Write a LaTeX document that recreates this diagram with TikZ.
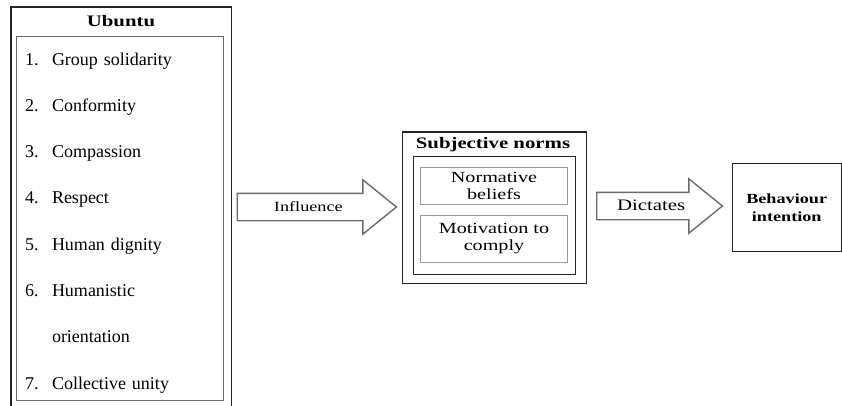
\documentclass[tikz,border=0pt]{standalone}
\usepackage{fontspec}
\setmainfont{Liberation Serif}
\newfontfamily\widefont{Liberation Serif}[FakeStretch=1.3]
\usetikzlibrary{shapes.arrows}

\definecolor{boxgray}{gray}{0.42}
\definecolor{itemgray}{gray}{0.6}

\begin{document}
\begin{tikzpicture}[x=1pt,y=1pt,node distance=46.3pt,
        outer box/.style={draw=black!85,line width=1.6pt,anchor=north west,inner sep=0pt},
        inner box/.style={draw=boxgray,line width=1.4pt,anchor=north west,inner sep=0pt},
        factor box/.style={draw=itemgray,line width=0.9pt,align=center,inner sep=0pt,
                           font=\widefont\fontsize{15.5}{17}\selectfont},
        list item/.style={text width=190pt,align=left,inner sep=0pt,text height=12pt,
                          text depth=4pt,font=\fontsize{18}{21}\selectfont},
        block arrow/.style={single arrow,draw=boxgray,line width=1.4pt,anchor=tail,
                            single arrow head extend=13.5pt,single arrow tip angle=78,
                            inner ysep=5pt,text height=12pt,text depth=4pt}]
  \useasboundingbox (0,0) rectangle (842,-405);

  % Ubuntu values
  \node[outer box,minimum width=220.5pt,minimum height=410pt] (1) at (10,-6) {};
  \node[font=\widefont\bfseries\fontsize{16}{18}\selectfont] (2) at (121,-21) {Ubuntu};
  \node[inner box,minimum width=207pt,minimum height=364.5pt] (3) at (16,-35.5) {};
  \node[list item] (4) at (120,-61) {\makebox[27pt][l]{1.}Group solidarity};
  \node[list item] (5) [below of=4] {\makebox[27pt][l]{2.}Conformity};
  \node[list item] (6) [below of=5] {\makebox[27pt][l]{3.}Compassion};
  \node[list item] (7) [below of=6] {\makebox[27pt][l]{4.}Respect};
  \node[list item] (8) [below of=7] {\makebox[27pt][l]{5.}Human dignity};
  \node[list item] (9) [below of=8] {\makebox[27pt][l]{6.}Humanistic};
  \node[list item] (10) [below of=9] {\hspace*{27pt}orientation};
  \node[list item] (11) [below of=10] {\makebox[27pt][l]{7.}Collective unity};

  % Subjective norms
  \node[outer box,minimum width=184pt,minimum height=151.5pt] (12) at (401.5,-131) {};
  \node[font=\widefont\bfseries\fontsize{16}{18}\selectfont] (13) at (493,-145) {Subjective norms};
  \node[inner box,draw=black!85,minimum width=162pt,minimum height=118.5pt] (14) at (413,-155.5) {};
  \node[factor box,minimum width=147pt,minimum height=37pt] (15) at (494,-185.5) {Normative\\beliefs};
  \node[factor box,minimum width=147pt,minimum height=46.5pt] (16) at (494,-238.7) {Motivation to\\comply};

  % Behaviour intention
  \node[outer box,line width=1.4pt,minimum width=109pt,minimum height=88pt,align=center,
        font=\widefont\bfseries\fontsize{14}{17.5}\selectfont] (17) at (731.5,-163) {Behaviour\\intention};

  % block arrows
  \node[block arrow,minimum height=159.2pt,font=\widefont\fontsize{14}{16}\selectfont] (18) at (236.5,-207) {Influence};
  \node[block arrow,minimum height=125.7pt,font=\widefont\fontsize{16}{18}\selectfont] (19) at (596,-206) {Dictates};
\end{tikzpicture}
\end{document}
